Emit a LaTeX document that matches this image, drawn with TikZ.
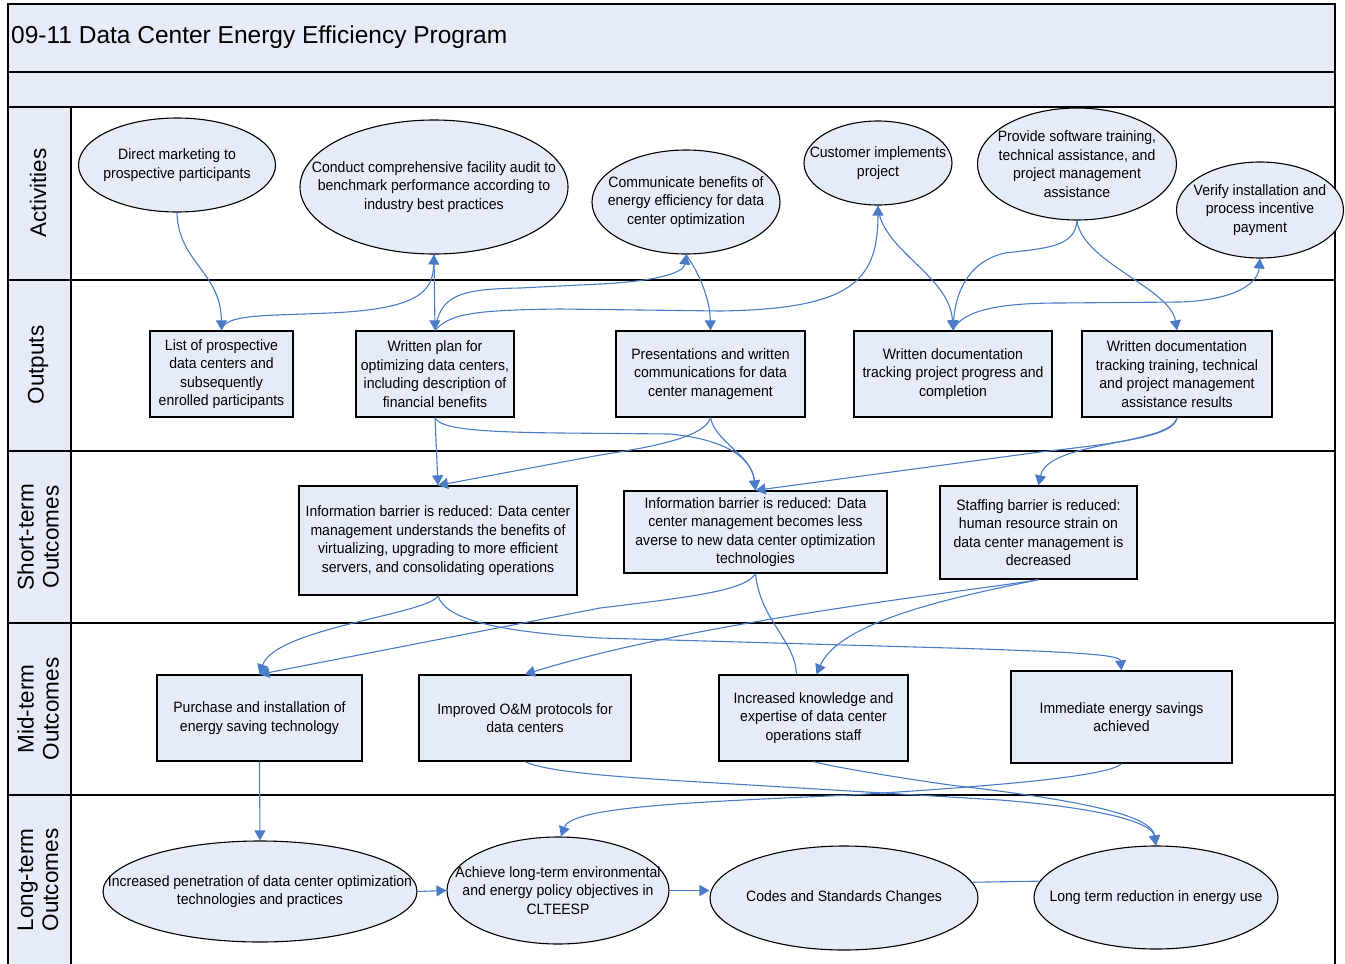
\documentclass[tikz,border=0pt]{standalone}
\usepackage{fontspec}
\setmainfont{Liberation Sans}
\newfontfamily\boxfont[FakeStretch=0.935]{Liberation Sans}
\usetikzlibrary{shapes.geometric,arrows.meta,calc}
\definecolor{paleblue}{RGB}{230,236,247}
\definecolor{linkblue}{RGB}{74,124,198}

\begin{document}
\begin{tikzpicture}[x=1pt,y=-1pt,
  frameline/.style={draw=black, line width=1.3pt},
  lanelabel/.style={rotate=90, align=center, inner sep=0pt,
    font=\fontsize{22.5}{25}\selectfont},
  boxtext/.style={align=center, inner sep=0pt,
    font=\boxfont\fontsize{15}{18.5}\selectfont},
  sz/.style 2 args={minimum width=#1pt, minimum height=#2pt},
  activity/.style={ellipse, draw=black, line width=1.1pt, fill=paleblue, inner sep=0pt},
  result/.style={rectangle, draw=black, line width=1.3pt, fill=paleblue, boxtext},
  flow/.style={draw=linkblue, line width=1.1pt, -{Triangle[width=11pt,length=10pt]}},
  plainflow/.style={draw=linkblue, line width=1.1pt},
]
\useasboundingbox (0,0) rectangle (1345,964);

% title bands and lane label column
\fill[paleblue] (8,4) rectangle (1335,107);
\fill[paleblue] (8,107) rectangle (71,970);
\draw[frameline] (8,970) -- (8,4) -- (1335,4) -- (1335,970);
\foreach \yy in {72,107,280,451,623,795}
  \draw[frameline] (8,\yy) -- (1335,\yy);
\draw[frameline] (71,107) -- (71,970);

\node[anchor=west, inner sep=0pt, font=\fontsize{24.5}{28}\selectfont] (title) at (11,37)
  {09-11 Data Center Energy Efficiency Program};

\node[lanelabel] (lnA) at (38,193) {Activities};
\node[lanelabel] (lnO) at (38,365) {Outputs};
\node[lanelabel] (lnS) at (38,537) {Short-term\\Outcomes};
\node[lanelabel] (lnM) at (38,709) {Mid-term\\Outcomes};
\node[lanelabel] (lnL) at (38,880) {Long-term\\Outcomes};

% activities (ellipse outline, then its text on top)
\node[activity, sz={197}{94}]  (A1) at (177,165) {};
\node[boxtext] (A1t) at (A1) {Direct marketing to\\prospective participants};
\node[activity, sz={268}{134}] (A2) at (434,187) {};
\node[boxtext] (A2t) at (A2) {Conduct comprehensive facility audit to\\benchmark performance according to\\industry best practices};
\node[activity, sz={188}{104}] (A3) at (686,202) {};
\node[boxtext] (A3t) at (A3) {Communicate benefits of\\energy efficiency for data\\center optimization};
\node[activity, sz={148}{84}]  (A4) at (878,163) {};
\node[boxtext] (A4t) at (A4) {Customer implements\\project};
\node[activity, sz={199}{112}] (A5) at (1077,164) {};
\node[boxtext] (A5t) at (A5) {Provide software training,\\technical assistance, and\\project management\\assistance};
\node[activity, sz={167}{96}]  (A6) at (1260,210) {};
\node[boxtext] (A6t) at (A6) {Verify installation and\\process incentive\\payment};

% outputs
\node[result, sz={143}{86}] (O1) at (221.5,374) {List of prospective\\data centers and\\subsequently\\enrolled participants};
\node[result, sz={158}{86}] (O2) at (435,374) {Written plan for\\optimizing data centers,\\including description of\\financial benefits};
\node[result, sz={189}{86}] (O3) at (710.5,374) {Presentations and written\\communications for data\\center management};
\node[result, sz={198}{86}] (O4) at (953,374) {Written documentation\\tracking project progress and\\completion};
\node[result, sz={190}{86}] (O5) at (1177,374) {Written documentation\\tracking training, technical\\and project management\\assistance results};

% short-term outcomes
\node[result, sz={278}{109}] (S1) at (438,540.5) {Information barrier is reduced: Data center\\management understands the benefits of\\virtualizing, upgrading to more efficient\\servers, and consolidating operations};
\node[result, sz={263}{82}]  (S2) at (755.5,532) {Information barrier is reduced: Data\\center management becomes less\\averse to new data center optimization\\technologies};
\node[result, sz={197}{93}]  (S3) at (1038.5,532.5) {Staffing barrier is reduced:\\human resource strain on\\data center management is\\decreased};

% mid-term outcomes
\node[result, sz={205}{86}] (M1) at (259.5,718) {Purchase and installation of\\energy saving technology};
\node[result, sz={212}{86}] (M2) at (525,718) {Improved O\&M protocols for\\data centers};
\node[result, sz={189}{86}] (M3) at (813.5,718) {Increased knowledge and\\expertise of data center\\operations staff};
\node[result, sz={221}{92}] (M4) at (1121.5,717) {Immediate energy savings\\achieved};

% long-term outcomes
\node[activity, sz={314}{101}] (L1) at (260,891.5) {};
\node[boxtext] (L1t) at (L1) {Increased penetration of data center optimization\\technologies and practices};
\node[activity, sz={222}{107}] (L2) at (558,890.5) {};
\node[boxtext] (L2t) at (L2) {Achieve long-term environmental\\and energy policy objectives in\\CLTEESP};
\node[activity, sz={268}{104}] (L3) at (844,898) {};
\node[boxtext] (L3t) at (L3) {Codes and Standards Changes};
\node[activity, sz={244}{103}] (L4) at (1156,897.5) {};
\node[boxtext] (L4t) at (L4) {Long term reduction in energy use};

% activities <-> outputs
\draw[flow] (A1.south) .. controls (178,262) and (221,272) .. (O1.north);
\draw[flow] (O1.north) .. controls (225,314) and (262,316) .. (330,313)
  .. controls (418,309) and (433,292) .. (A2.south);
\draw[flow] (A2.south) -- (O2.north);
\draw[flow] (O2.north) .. controls (440,296) and (458,289) .. (520,288)
  -- (600,284) .. controls (660,281) and (684,272) .. (A3.south);
\draw[flow] (O2.north) .. controls (450,314) and (472,310) .. (560,309)
  -- (720,311) .. controls (850,309) and (878,282) .. (A4.south);
\draw[flow] (A3.south) .. controls (700,274) and (710,300) .. (O3.north);
\draw[flow] (A4.south) .. controls (880,250) and (950,275) .. (O4.north);
\draw[flow] (A5.south) .. controls (1075,246) and (1050,248) .. (1005,253)
  .. controls (965,262) and (955,298) .. (O4.north);
\draw[flow] (A5.south) .. controls (1082,262) and (1170,288) .. (O5.north);
\draw[flow] (O4.north) .. controls (962,310) and (1000,303) .. (1060,303)
  -- (1180,302) .. controls (1238,300) and (1258,282) .. (A6.south);

% outputs -> short-term outcomes
\draw[flow] (O2.south) -- (S1.north);
\draw[flow] (O2.south) .. controls (440,428) and (470,432) .. (560,433)
  -- (670,434) .. controls (730,440) and (752,460) .. (S2.north);
\draw[flow] (O3.south) .. controls (705,436) and (660,446) .. (600,455) -- (S1.north);
\draw[flow] (O3.south) .. controls (715,442) and (752,455) .. (S2.north);
\draw[flow] (O5.south) .. controls (1175,436) and (1120,443) .. (1040,452) -- (S2.north);
\draw[flow] (O5.south) .. controls (1170,446) and (1048,440) .. (S3.north);

% short-term -> mid-term outcomes
\draw[flow] (S1.south) .. controls (430,614) and (275,628) .. (M1.north);
\draw[flow] (S1.south) .. controls (445,620) and (500,632) .. (600,638)
  -- (950,648) .. controls (1080,652) and (1120,655) .. (M4.north);
\draw[flow] (S2.south) .. controls (745,590) and (700,596) .. (600,608) -- (M1.north);
\draw[plainflow] (S2.south) .. controls (760,620) and (795,640) .. ($(M3.north)+(-17,0)$);
\draw[flow] (S3.south) .. controls (980,590) and (700,620) .. (M2.north);
\draw[flow] (S3.south) .. controls (960,596) and (840,620) .. ($(M3.north)+(3,0)$);

% mid-term -> long-term outcomes
\draw[flow] (M1.south) -- (L1.north);
\draw[flow] (M2.south) .. controls (545,771) and (600,776) .. (700,782)
  -- (1000,800) .. controls (1100,808) and (1152,822) .. (L4.north);
\draw[flow] (M3.south) .. controls (830,766) and (880,775) .. (950,785)
  .. controls (1080,800) and (1152,815) .. (L4.north);
\draw[flow] (M4.south) .. controls (1110,776) and (1000,786) .. (850,795)
  .. controls (700,802) and (572,806) .. ($(L2.north)+(3,0)$);

% long-term chain
\draw[flow] (L1.east) -- (L2.west);
\draw[flow] (L2.east) -- (L2.east -| L3.west);
\draw[plainflow] (L3.7) -- (L4.172);
\end{tikzpicture}
\end{document}
